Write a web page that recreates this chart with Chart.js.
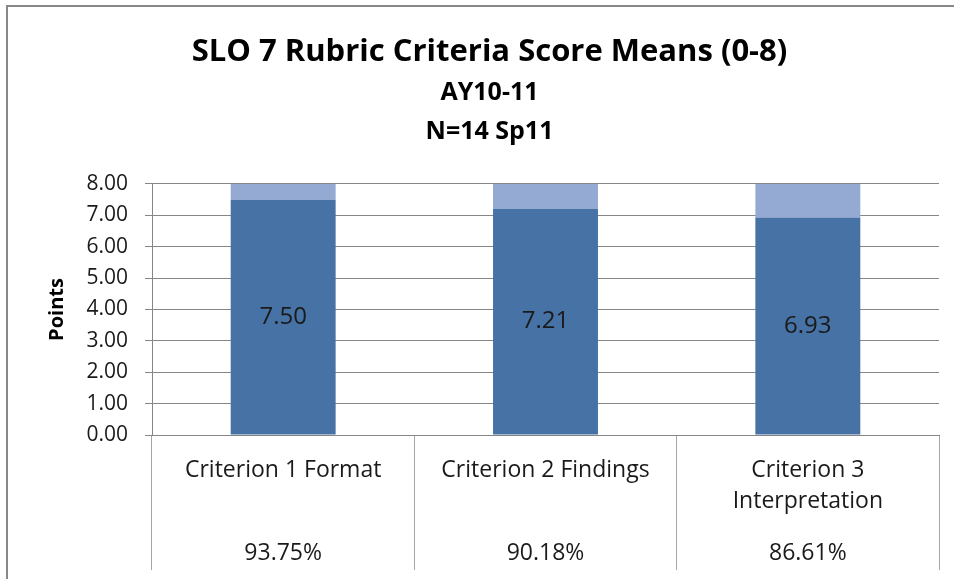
<!DOCTYPE html>
<html>
<head>
<meta charset="utf-8">
<script src="https://cdn.jsdelivr.net/npm/chart.js@4/dist/chart.umd.min.js"></script>
<style>
html,body{margin:0;padding:0;background:#fff;}
#wrap{position:relative;width:954px;height:579px;}
</style>
</head>
<body>
<div id="wrap"><canvas id="c" width="954" height="579"></canvas></div>
<script>
const categories = [["Criterion 1 Format"], ["Criterion 2 Findings"], ["Criterion 3", "Interpretation"]];
const meanScores = [7.50, 7.21, 6.93];
const remainderScores = [0.50, 0.79, 1.07];
const percentLabels = ["93.75%", "90.18%", "86.61%"];
const yTicks = [0, 1, 2, 3, 4, 5, 6, 7, 8];

const FONT = "'Open Sans', 'Liberation Sans', sans-serif";

const framePlugin = {
  id: 'frame',
  beforeDraw(chart) {
    const ctx = chart.ctx;
    ctx.save();
    ctx.fillStyle = '#ffffff';
    ctx.fillRect(0, 0, chart.width, chart.height);
    ctx.fillStyle = '#888888';
    ctx.fillRect(6, 5, 2, chart.height - 5);
    ctx.fillRect(6, 5, chart.width - 6, 2);
    ctx.restore();
  }
};

const labelsPlugin = {
  id: 'tableLabels',
  afterDraw(chart) {
    const ctx = chart.ctx;
    const xs = chart.scales.x;
    const bottom = chart.chartArea.bottom;
    ctx.save();
    ctx.fillStyle = '#1a1a1a';
    ctx.textAlign = 'center';
    ctx.textBaseline = 'middle';
    ctx.font = "23px " + FONT;
    categories.forEach((lines, i) => {
      const x = xs.getPixelForValue(i);
      lines.forEach((t, j) => ctx.fillText(t, x, bottom + 35 + j * 31));
      ctx.fillText(percentLabels[i], x, bottom + 118);
    });
    // value labels inside dark bars
    const meta = chart.getDatasetMeta(0);
    ctx.font = "24px " + FONT;
    meta.data.forEach((bar, i) => {
      const y = (bar.y + bar.base) / 2;
      ctx.fillText(meanScores[i].toFixed(2), bar.x, y);
    });
    ctx.restore();
  }
};

new Chart(document.getElementById('c'), {
  type: 'bar',
  data: {
    labels: categories,
    datasets: [
      { label: 'Mean', data: meanScores, backgroundColor: '#4672A6', borderWidth: 0 },
      { label: 'Remainder', data: remainderScores, backgroundColor: '#95AAD2', borderWidth: 0 }
    ]
  },
  options: {
    responsive: false,
    animation: false,
    events: [],
    layout: { padding: { left: 40, right: 15, top: 10, bottom: 9 } },
    datasets: { bar: { categoryPercentage: 1.0, barPercentage: 0.4 } },
    plugins: {
      legend: { display: false },
      tooltip: { enabled: false },
      title: {
        display: true,
        text: 'SLO 7 Rubric Criteria Score Means (0-8)',
        color: '#000',
        font: { family: FONT, size: 31, weight: 'bold', lineHeight: 1.16 },
        padding: { top: 24, bottom: 0 }
      },
      subtitle: {
        display: true,
        text: ['AY10-11', 'N=14 Sp11'],
        color: '#000',
        font: { family: FONT, size: 25, weight: 'bold', lineHeight: 1.56 },
        padding: { top: 3, bottom: 33 }
      }
    },
    scales: {
      x: {
        stacked: true,
        offset: true,
        grid: { offset: true, drawOnChartArea: false, drawTicks: true, tickLength: 135, color: '#a6a6a6', lineWidth: 1 },
        border: { display: true, color: '#868686', width: 1 },
        ticks: { display: false },
        afterFit(s) { s.height = 135; }
      },
      y: {
        stacked: true,
        min: 0,
        max: 8,
        afterBuildTicks(s) { s.ticks = yTicks.map(v => ({ value: v })); },
        grid: { color: '#868686', lineWidth: 1, tickLength: 7 },
        border: { display: true, color: '#868686', width: 1 },
        ticks: {
          color: '#1a1a1a',
          padding: 17,
          font: { family: FONT, size: 21 },
          callback: v => Number(v).toFixed(2)
        },
        title: {
          display: true,
          text: 'Points',
          color: '#000',
          font: { family: FONT, size: 20, weight: 'bold' },
          padding: { top: 5, bottom: 0 }
        },
        afterFit(s) { s.width = 112; }
      }
    }
  },
  plugins: [framePlugin, labelsPlugin]
});
</script>
</body>
</html>
